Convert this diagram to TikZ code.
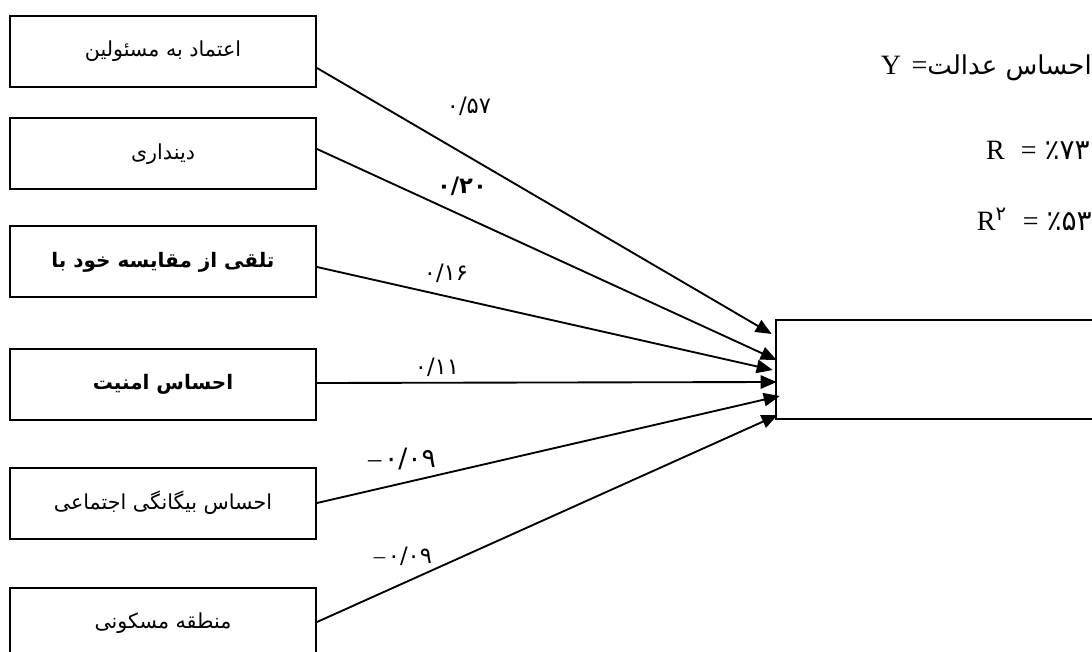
\documentclass[tikz,border=0pt]{standalone}
\usepackage{fontspec}
\setmainfont{Liberation Serif}
\newfontfamily\arabicfont[Script=Arabic]{DejaVu Sans}
\TeXXeTstate=1
\usetikzlibrary{arrows.meta,calc}
\begin{document}
\begin{tikzpicture}[x=0.75pt,y=-0.75pt,
  srcbox/.style={draw,line width=1.5pt,minimum width=229.5pt,minimum height=53.25pt,inner sep=0pt,
    font=\arabicfont\fontsize{15.5}{18}\selectfont},
  boldbox/.style={srcbox,font=\arabicfont\bfseries\fontsize{15}{18}\selectfont},
  tgtbox/.style={draw,line width=1.5pt,minimum width=260pt,minimum height=74.25pt,inner sep=0pt},
  arr/.style={line width=1.4pt,-{Triangle[length=12pt,width=10pt]}},
  coef/.style={font=\arabicfont\fontsize{17}{20}\selectfont,inner sep=0pt},
  stat/.style={font=\fontsize{21}{24}\selectfont,inner sep=0pt,anchor=base east}]
\useasboundingbox (0,0) rectangle (1092,652);
\clip (0,0) rectangle (1092,652);

\node[srcbox]  (b1) at (163,51.5) {\beginR اعتماد به مسئولین\endR};
\node[srcbox]  (b2) at (163,154)  {\beginR دینداری\endR};
\node[boldbox] (b3) at (163,262)  {\beginR تلقی از مقایسه خود با\endR};
\node[boldbox] (b4) at (163,384.5){\beginR احساس امنیت\endR};
\node[srcbox]  (b5) at (163,503)  {\beginR احساس بیگانگی اجتماعی\endR};
\node[srcbox]  (b6) at (163,623.5){\beginR منطقه مسکونی\endR};

\node[tgtbox] (tgt) at (949,369.5) {};

\coordinate (t1) at ($(tgt.north west)+(-3,15)$);
\coordinate (t2) at ($(tgt.north west)+(2,41)$);
\coordinate (t3) at ($(tgt.north west)+(-2,51)$);
\coordinate (t4) at ($(tgt.north west)+(2,63)$);
\coordinate (t5) at ($(tgt.north west)+(5,77)$);
\coordinate (t6) at ($(tgt.north west)+(3,96)$);

\draw[arr] ($(b1.east)+(0,16.5)$) -- (t1);
\draw[arr] ($(b2.east)+(0,-5)$) -- (t2);
\draw[arr] ($(b3.east)+(0,5)$) -- (t3);
\draw[arr] ($(b4.east)+(0,-1.5)$) -- (t4);
\draw[arr] (b5.east) -- (t5);
\draw[arr] ($(b6.east)+(0,-1.5)$) -- (t6);

\node[coef] (c1) at (469,106) {۰/۵۷};
\node[coef,font=\arabicfont\bfseries\fontsize{17}{20}\selectfont] (c2) at (462,186) {۰/۲۰};
\node[coef] (c3) at (446,273) {۰/۱۶};
\node[coef] (c4) at (437,367) {۰/۱۱};
\node[coef,font=\arabicfont\fontsize{20}{24}\selectfont] (c5) at (402,459) {\hbox{\rmfamily –}\kern2pt۰/۰۹};
\node[coef] (c6) at (403,556) {\hbox{\rmfamily –}\kern2pt۰/۰۹};

\node[stat] (sy) at (1092,75) {Y\hspace{8pt}=\arabicfont\fontsize{19.5}{22}\selectfont\beginR احساس عدالت\endR};
\node[stat] (sr) at (1090,160) {R\hspace{12pt}=\hspace{6pt}{\arabicfont\fontsize{21}{24}\selectfont ٪۷۳}};
\node[stat] (sr2) at (1092,231) {R\textsuperscript{\arabicfont ۲}\hspace{12pt}=\hspace{6pt}{\arabicfont\fontsize{21}{24}\selectfont ٪۵۳}};
\end{tikzpicture}
\end{document}
